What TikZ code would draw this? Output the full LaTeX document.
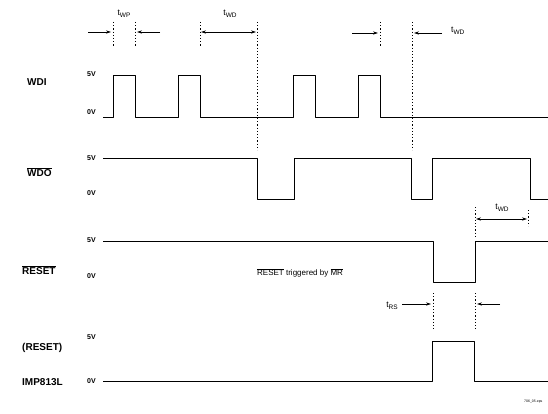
\documentclass[tikz,border=0pt]{standalone}
\usepackage{fontspec}
\setmainfont{Liberation Sans}
\usetikzlibrary{arrows.meta}
\newcommand\ovl[1]{$\overline{\mbox{#1}}$}
\newcommand\tsub[1]{t\raisebox{-0.55ex}{\fontsize{6.5}{7}\selectfont #1}}
\tikzset{
  sig/.style={line width=0.9pt, line join=round},
  dots/.style={line width=0.6pt, dash pattern=on 1.2pt off 2pt},
  dim/.style={line width=0.6pt, -{Stealth[length=5pt,width=3.2pt]}},
  dimb/.style={line width=0.6pt, {Stealth[length=5pt,width=3.2pt]}-{Stealth[length=5pt,width=3.2pt]}},
  lab/.style={font=\bfseries\fontsize{10}{12}\selectfont, anchor=west, inner sep=0pt},
  volt/.style={font=\bfseries\fontsize{7}{8}\selectfont, anchor=east, inner sep=0pt},
  tl/.style={font=\fontsize{8.5}{10}\selectfont, inner sep=0pt}
}
\begin{document}
\begin{tikzpicture}[x=1pt,y=-1pt]
\useasboundingbox (0,0) rectangle (548,414);
% labels
\node[lab] (lwdi) at (27,82) {WDI};
\node[lab] (lwdo) at (27,172) {\ovl{WDO}};
\node[lab] (lrst) at (22,270) {\ovl{RESET}};
\node[lab] (lrst2) at (22,348) {(RESET)};
\node[lab] (limp) at (22,382) {IMP813L};
% voltages
\node[volt] (v1h) at (96,74) {5V};
\node[volt] (v1l) at (96,112) {0V};
\node[volt] (v2h) at (96,158) {5V};
\node[volt] (v2l) at (96,193) {0V};
\node[volt] (v3h) at (96,240) {5V};
\node[volt] (v3l) at (96,276) {0V};
\node[volt] (v4h) at (96,337) {5V};
\node[volt] (v4l) at (96,381) {0V};
% WDI
\draw[sig] (103,117) -- (113,117) -- (113,75) -- (135,75) -- (135,117)
  -- (178,117) -- (178,75) -- (200,75) -- (200,117)
  -- (293,117) -- (293,75) -- (315,75) -- (315,117)
  -- (358,117) -- (358,75) -- (380,75) -- (380,117) -- (548,117);
% WDO
\draw[sig] (103,158) -- (257,158) -- (257,199) -- (294,199) -- (294,158)
  -- (411,158) -- (411,199) -- (432,199) -- (432,158)
  -- (530,158) -- (530,199) -- (548,199);
% RESET
\draw[sig] (103,241) -- (433,241) -- (433,282) -- (475,282) -- (475,241) -- (548,241);
% IMP813L
\draw[sig] (103,381) -- (432,381) -- (432,341) -- (474,341) -- (474,381) -- (548,381);
% dotted guides
\draw[dots] (113,22) -- (113,46);
\draw[dots] (135,22) -- (135,46);
\draw[dots] (200,22) -- (200,46);
\draw[dots] (257,22) -- (257,150);
\draw[dots] (380,22) -- (380,46);
\draw[dots] (412,22) -- (412,150);
\draw[dots] (475,207) -- (475,238);
\draw[dots] (528,210) -- (528,226);
\draw[dots] (433,293) -- (433,330);
\draw[dots] (475,293) -- (475,330);
% timing annotations
\coordinate (a1) at (88,32);  \coordinate (a2) at (111,32);
\coordinate (a3) at (160,32); \coordinate (a4) at (137,32);
\draw[dim] (a1) -- (a2);
\draw[dim] (a3) -- (a4);
\node[tl] (twp) at (124,14) {\tsub{WP}};
\coordinate (b1) at (201,32); \coordinate (b2) at (256,32);
\draw[dimb] (b1) -- (b2);
\node[tl] (twd1) at (230,14) {\tsub{WD}};
\coordinate (c1) at (352,33); \coordinate (c2) at (378,33);
\coordinate (c3) at (442,33); \coordinate (c4) at (414,33);
\draw[dim] (c1) -- (c2);
\draw[dim] (c3) -- (c4);
\node[tl, anchor=west] (twd2) at (451,31) {\tsub{WD}};
\coordinate (d1) at (476,219); \coordinate (d2) at (527,219);
\draw[dimb] (d1) -- (d2);
\node[tl] (twd3) at (502,208) {\tsub{WD}};
\node[tl] (trs) at (392,306) {\tsub{RS}};
\coordinate (e1) at (402,304); \coordinate (e2) at (431,304);
\coordinate (e3) at (500,304); \coordinate (e4) at (477,304);
\draw[dim] (e1) -- (e2);
\draw[dim] (e3) -- (e4);
% note
\node[anchor=west, inner sep=0pt, font=\fontsize{8}{10}\selectfont] (note) at (257,273) {\ovl{RESET} triggered by \ovl{MR}};
\node[anchor=west, inner sep=0pt, font=\fontsize{3.5}{4}\selectfont] (fn) at (524,402) {706\_05.eps};
\end{tikzpicture}
\end{document}
